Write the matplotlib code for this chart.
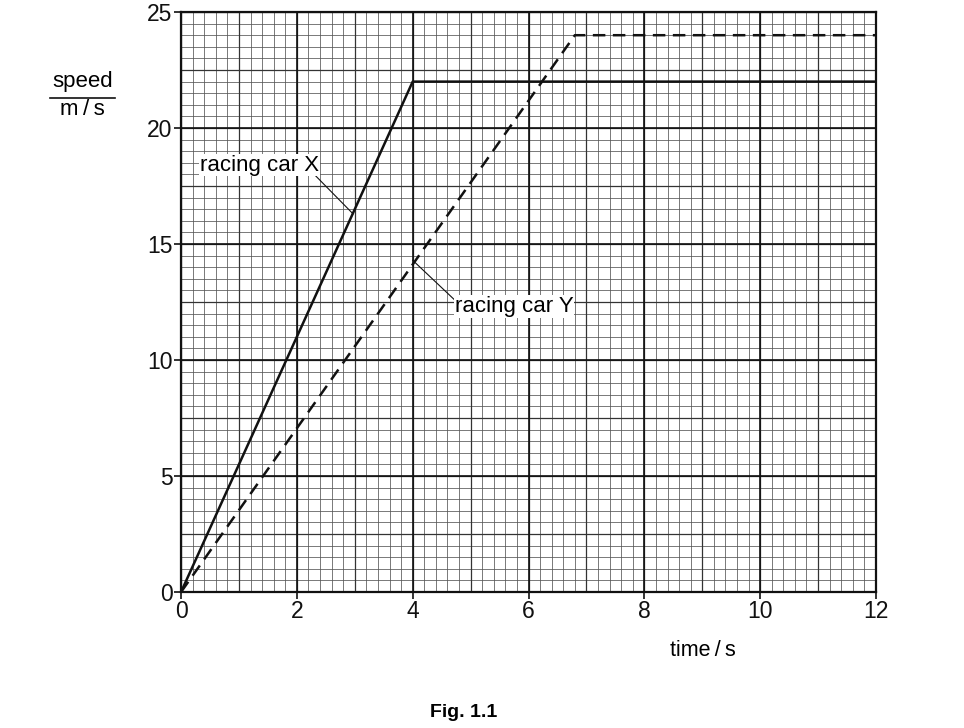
import numpy as np
import matplotlib.pyplot as plt
from matplotlib.lines import Line2D

plt.rcParams['font.family'] = ['Liberation Sans', 'DejaVu Sans']

# datos
t_x = [0, 4, 12]
v_x = [0, 22, 22]
t_y = [0, 6.8, 12]
v_y = [0, 24, 24]
xticks = [0, 2, 4, 6, 8, 10, 12]
yticks = [0, 5, 10, 15, 20, 25]

fig = plt.figure(figsize=(9.64, 7.28), dpi=100)
ax = fig.add_axes([0.1878, 0.1868, 0.7209, 0.7967])
ax.set_xlim(0, 12)
ax.set_ylim(0, 25)

# papel milimetrado
for x in np.arange(0, 12.01, 0.2):
    ax.axvline(x, color='#555555', lw=0.55, zorder=1)
for y in np.arange(0, 25.01, 0.5):
    ax.axhline(y, color='#555555', lw=0.55, zorder=1)
for x in np.arange(0, 12.01, 1):
    ax.axvline(x, color='#333333', lw=0.9, zorder=1)
for y in np.arange(0, 25.01, 2.5):
    ax.axhline(y, color='#333333', lw=0.9, zorder=1)
for x in xticks:
    ax.axvline(x, color='#111111', lw=1.2, zorder=1)
for y in yticks:
    ax.axhline(y, color='#111111', lw=1.2, zorder=1)

ax.plot(t_x, v_x, color='#111111', lw=1.8, zorder=3, solid_capstyle='butt')
ax.plot(t_y, v_y, color='#111111', lw=1.8, zorder=3, dashes=(5, 3))

ax.set_xticks(xticks)
ax.set_yticks(yticks)
ax.tick_params(labelsize=16.5, length=5, width=1.2, colors='#111111', pad=1)
for s in ax.spines.values():
    s.set_linewidth(1.6)
    s.set_color('#111111')

# etiquetas
ax.plot([2.3, 2.97], [18.0, 16.3], color='#111111', lw=0.8, zorder=4)
ax.text(0.33, 18.4, 'racing car X', fontsize=16, va='center', ha='left', zorder=5,
        bbox=dict(facecolor='white', edgecolor='none', pad=0.5))
ax.plot([4.0, 4.72], [14.3, 12.6], color='#111111', lw=0.8, zorder=4)
ax.text(4.73, 12.3, 'racing car Y', fontsize=16, va='center', ha='left', zorder=5,
        bbox=dict(facecolor='white', edgecolor='none', pad=0.5))

fig.text(0.0855, 0.888, 'speed', fontsize=16, ha='center', va='center')
fig.add_artist(Line2D([0.052, 0.119], [0.866, 0.866], color='#111111', lw=1.2))
fig.text(0.0855, 0.850, 'm\u2009/\u2009s', fontsize=16, ha='center', va='center')
fig.text(0.729, 0.107, 'time\u2009/\u2009s', fontsize=15.5, ha='center', va='center')
fig.text(0.481, 0.021, 'Fig. 1.1', fontsize=14, ha='center', va='center', fontweight='bold')

fig.savefig('out.png', dpi=100)
